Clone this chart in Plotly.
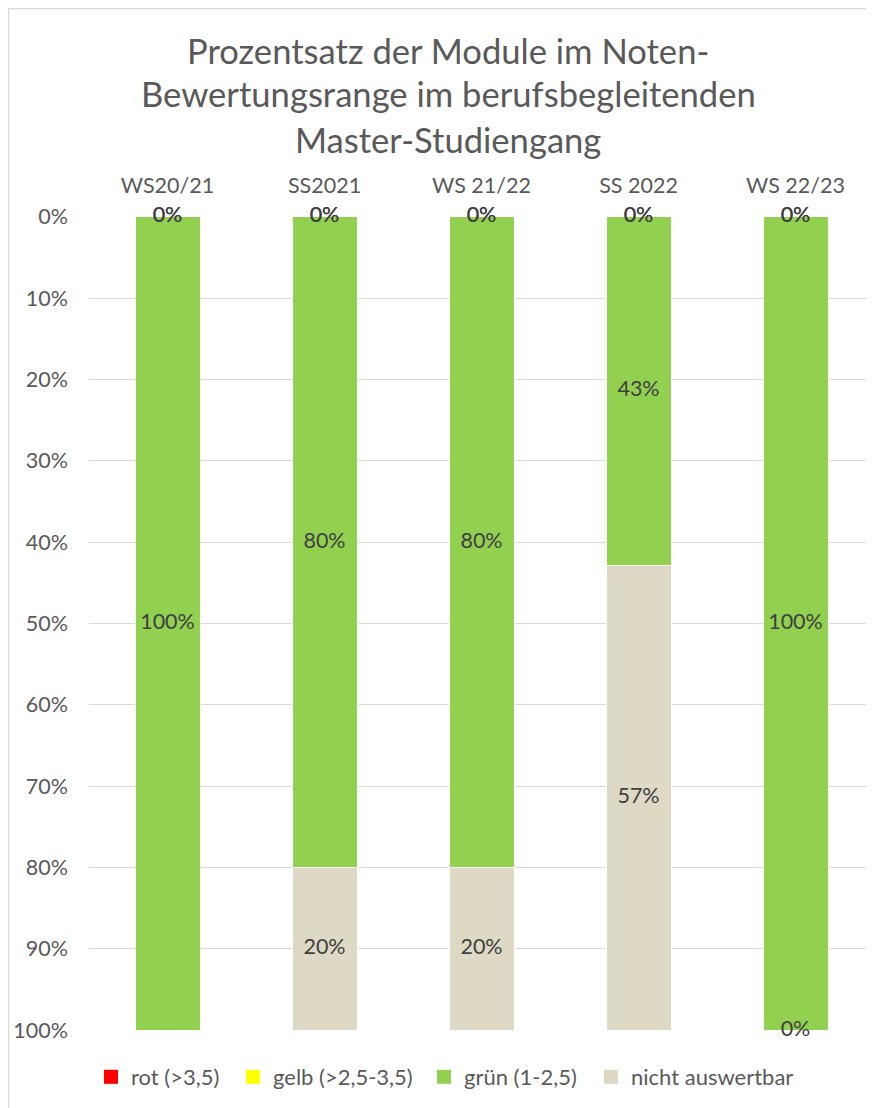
import plotly.graph_objects as go

categories = ["WS20/21", "SS2021", "WS 21/22", "SS 2022", "WS 22/23"]
rot = [0, 0, 0, 0, 0]
gelb = [0, 0, 0, 0, 0]
gruen = [1.0, 0.8, 0.8, 0.4286, 1.0]
nicht = [None, 0.2, 0.2, 0.5714, 0]

series_names = ["rot (>3,5)", "gelb (>2,5-3,5)", "grün (1-2,5)", "nicht auswertbar"]
series_values = [rot, gelb, gruen, nicht]
series_colors = ["#FF0000", "#FFFF00", "#92D050", "#DDD9C4"]

title_lines = ["Prozentsatz der Module im Noten-",
               "Bewertungsrange im berufsbegleitenden",
               "Master-Studiengang"]

FONT = "Lato, Calibri, Carlito, 'Open Sans', sans-serif"
OFF = 8  # page body margin
W, H = 874 - OFF, 1108 - OFF
L = 89 - OFF
R = 0
T = 216 - OFF
B = H - (1031 - OFF)
PW = W - L - R
PH = H - T - B
FS = 21.5

def py(p):  # reference-screen pixel -> paper y
    return (H - B - (p - OFF)) / PH

def px(p):  # reference-screen pixel -> paper x
    return ((p - OFF) - L) / PW

fig = go.Figure()

legend_ids = ["legend", "legend2", "legend3", "legend4"]
legend_text_x = [131, 273, 464, 631]

for name, vals, col, lid in zip(series_names, series_values, series_colors, legend_ids):
    fig.add_trace(go.Bar(
        x=categories, y=[v if v is not None else 0 for v in vals], name=name,
        marker=dict(color=col, line=dict(color="#FFFFFF", width=1)),
        width=0.414, showlegend=False, hoverinfo="skip", legendgroup=name,
    ))
    # legend entry with a larger square swatch
    fig.add_trace(go.Scatter(
        x=[None], y=[None], mode="markers", name=name, legend=lid,
        legendgroup=name, showlegend=True, hoverinfo="skip",
        marker=dict(symbol="square", size=14, color=col, line=dict(width=0)),
    ))

base = [0.0] * len(categories)
for name, vals in zip(series_names, series_values):
    xs, ys, ts = [], [], []
    for i, v in enumerate(vals):
        if v is None:
            continue
        xs.append(categories[i])
        ys.append(base[i] + v / 2)
        ts.append(f"{round(v * 100):.0f}%")
        base[i] += v
    fig.add_trace(go.Scatter(
        x=xs, y=ys, text=ts, mode="text", showlegend=False,
        textposition="middle center", hoverinfo="skip",
        textfont=dict(family=FONT, size=FS, color="#404040"),
        cliponaxis=False,
    ))

title_y = [50, 94, 139]
for line, y in zip(title_lines, title_y):
    fig.add_annotation(
        text=line, xref="paper", yref="paper", x=px(448), y=py(y),
        xanchor="center", yanchor="middle", showarrow=False,
        font=dict(family=FONT, size=34.6, color="#595959"),
    )

fig.add_shape(type="rect", xref="paper", yref="paper",
              x0=px(8.7), x1=px(900), y0=py(1130), y1=py(8.6),
              line=dict(color="#D9D9D9", width=1.3), fillcolor="rgba(0,0,0,0)",
              layer="below")

legend_style = dict(orientation="h", yanchor="middle", y=py(1077),
                    xanchor="left", itemwidth=30, bgcolor="rgba(0,0,0,0)",
                    font=dict(family=FONT, size=22, color="#595959"))
legends = {}
for lid, tx in zip(legend_ids, legend_text_x):
    legends[lid] = dict(legend_style, x=px(tx - 40))

fig.update_layout(
    width=W, height=H,
    margin=dict(l=L, r=R, t=T, b=B),
    barmode="stack", bargap=0.586,
    paper_bgcolor="#FFFFFF", plot_bgcolor="#FFFFFF",
    font=dict(family=FONT, size=FS, color="#595959"),
    xaxis=dict(side="top", showgrid=False, showline=False, ticks="",
               tickfont=dict(family=FONT, size=FS, color="#595959"),
               ticklabelstandoff=18, fixedrange=True),
    yaxis=dict(range=[1.001, -0.001], tickformat=".0%", dtick=0.1, tick0=0,
               showgrid=True, gridcolor="#D9D9D9", gridwidth=1.3,
               zeroline=False, showline=False, ticks="",
               tickfont=dict(family=FONT, size=FS, color="#595959"),
               ticklabelstandoff=20),
    **legends,
)

fig.write_html("out.html")
